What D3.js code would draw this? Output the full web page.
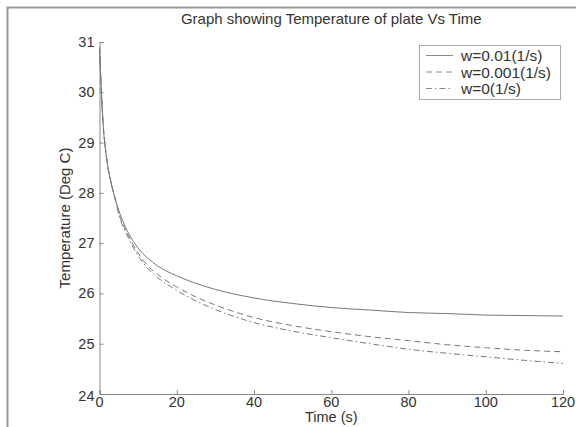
<!DOCTYPE html>
<html>
<head>
<meta charset="utf-8">
<script src="https://cdn.jsdelivr.net/npm/d3@7"></script>
<style>
  body { margin: 0; background: #fff; }
  text { font-family: "Liberation Sans", Arial, sans-serif; fill: #333; }
</style>
</head>
<body>
<div id="chart"></div>
<script>
// Sampled time points (s)
const times = [0, 0.5, 1, 1.5, 2, 3, 4, 5, 7.5, 10, 12.5, 15, 20, 25, 30, 40, 50, 60, 70, 80, 90, 100, 110, 120];

// Plate temperature (Deg C) for each w
const tempW001 = [30.9, 30.0, 29.3, 28.9, 28.6, 28.2, 27.9, 27.65, 27.2, 26.9, 26.7, 26.55, 26.35, 26.2, 26.08, 25.91, 25.8, 25.72, 25.67, 25.62, 25.6, 25.57, 25.56, 25.55];
const tempW0001 = [30.9, 30.0, 29.3, 28.9, 28.6, 28.2, 27.9, 27.6, 27.15, 26.8, 26.55, 26.38, 26.13, 25.93, 25.77, 25.52, 25.36, 25.24, 25.14, 25.06, 24.98, 24.92, 24.87, 24.84];
const tempW0 = [30.9, 30.0, 29.3, 28.9, 28.6, 28.2, 27.9, 27.58, 27.1, 26.75, 26.5, 26.32, 26.06, 25.85, 25.68, 25.42, 25.25, 25.12, 25.0, 24.89, 24.81, 24.74, 24.67, 24.61];

const seriesNames = ['w=0.01(1/s)', 'w=0.001(1/s)', 'w=0(1/s)'];
const xTicks = [0, 20, 40, 60, 80, 100, 120];
const yTicks = [24, 25, 26, 27, 28, 29, 30, 31];

const width = 576, height = 427;
const margin = {top: 42, right: 13, bottom: 33, left: 99.5};
const dashes = [null, '6,4', '6,3,1.5,3'];

const svg = d3.select('#chart').append('svg')
    .attr('width', width)
    .attr('height', height);

// Figure frame (left and top edges visible)
svg.append('path')
    .attr('d', `M7.5,${height} V7.5 H${width}`)
    .attr('fill', 'none')
    .attr('stroke', '#999')
    .attr('stroke-width', 2);

const x = d3.scaleLinear().domain([0, 120]).range([margin.left, width - margin.right]);
const y = d3.scaleLinear().domain([24, 31]).range([height - margin.bottom, margin.top]);

// Axes with inward ticks (MATLAB style)
const xAxis = svg.append('g')
    .attr('transform', `translate(0,${y(24)})`)
    .call(d3.axisTop(x).tickValues(xTicks).tickSize(4).tickFormat(''));
const yAxis = svg.append('g')
    .attr('transform', `translate(${x(0)},0)`)
    .call(d3.axisRight(y).tickValues(yTicks).tickSize(4).tickFormat(''));
[xAxis, yAxis].forEach(a => {
  a.selectAll('path, line').attr('stroke', '#888');
});

svg.append('g').selectAll('text')
    .data(xTicks)
  .join('text')
    .attr('x', d => x(d))
    .attr('y', y(24) + 12.5)
    .attr('text-anchor', 'middle')
    .attr('font-size', 14.5)
    .text(d => d);

svg.append('g').selectAll('text')
    .data(yTicks)
  .join('text')
    .attr('x', x(0) - 5)
    .attr('y', d => y(d) + 5 + (d === 24 ? 2 : 0))
    .attr('text-anchor', 'end')
    .attr('font-size', 14.5)
    .text(d => d);

// Titles
svg.append('text')
    .attr('x', (x(0) + x(120)) / 2)
    .attr('y', 24)
    .attr('text-anchor', 'middle')
    .attr('font-size', 15)
    .text('Graph showing Temperature of plate Vs Time');

svg.append('text')
    .attr('x', (x(0) + x(120)) / 2)
    .attr('y', 422)
    .attr('text-anchor', 'middle')
    .attr('font-size', 14.5)
    .text('Time (s)');

svg.append('text')
    .attr('transform', `translate(70,${(y(24) + y(31)) / 2}) rotate(-90)`)
    .attr('text-anchor', 'middle')
    .attr('font-size', 15)
    .text('Temperature (Deg C)');

// Lines
const series = [tempW001, tempW0001, tempW0];
const line = d3.line()
    .x((d, i) => x(times[i]))
    .y(d => y(d))
    .curve(d3.curveMonotoneX);

svg.append('g').selectAll('path')
    .data(series)
  .join('path')
    .attr('d', line)
    .attr('fill', 'none')
    .attr('stroke', '#777')
    .attr('stroke-width', 1)
    .attr('stroke-dasharray', (d, i) => dashes[i]);

// Legend
const legend = svg.append('g').attr('transform', 'translate(419,45)');
legend.append('rect')
    .attr('x', 0.5).attr('y', 0.5)
    .attr('width', 141).attr('height', 54)
    .attr('fill', '#fff')
    .attr('stroke', '#aaa');
const rows = legend.selectAll('g.row')
    .data(seriesNames)
  .join('g')
    .attr('class', 'row')
    .attr('transform', (d, i) => `translate(0,${10.5 + i * 16.5})`);
rows.append('line')
    .attr('x1', 7).attr('x2', 34)
    .attr('stroke', '#888')
    .attr('stroke-dasharray', (d, i) => dashes[i]);
rows.append('text')
    .attr('x', 42)
    .attr('y', 5.5)
    .attr('font-size', 15.5)
    .text(d => d);
</script>
</body>
</html>
